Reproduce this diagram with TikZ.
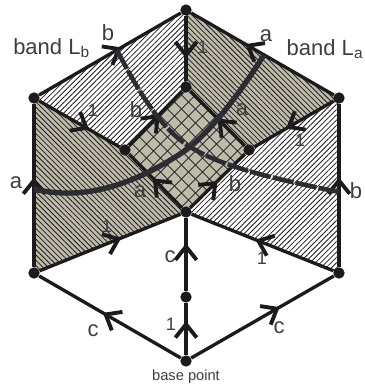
\documentclass[tikz,border=0pt]{standalone}
\usepackage{fontspec}
\setmainfont{Liberation Sans}
\usetikzlibrary{
	arrows.meta,
	backgrounds,
	decorations.markings,
	patterns.meta
}
\definecolor{BandBeige}{RGB}{190,187,170}
\definecolor{EdgeBlack}{RGB}{28,26,28}
\definecolor{CurveGrey}{RGB}{44,44,50}
\definecolor{LabelGrey}{RGB}{62,62,66}
\tikzset{
	vertex/.style={circle,fill=EdgeBlack,inner sep=0pt,minimum size=8.5pt},
	edge/.style={EdgeBlack,line width=2.5pt},
	barb/.style={
		postaction={decorate,decoration={markings,
			mark=at position #1 with {\arrow[EdgeBlack]{Straight Barb[length=10pt,width=16pt,line width=2.9pt]}}}}
	},
	lab/.style={LabelGrey,font=\fontsize{16.5}{16.5}\selectfont,inner sep=0pt},
	numlab/.style={LabelGrey,font=\fontsize{13.5}{13.5}\selectfont,inner sep=0pt},
	hatchne/.style={pattern={Lines[angle=45,distance=2.8pt,line width=0.6pt]},pattern color=EdgeBlack},
	hatchnw/.style={pattern={Lines[angle=-45,distance=2.8pt,line width=0.6pt]},pattern color=EdgeBlack},
	gridne/.style={pattern={Lines[angle=45,distance=7.4pt,line width=0.75pt]},pattern color=EdgeBlack},
	gridnw/.style={pattern={Lines[angle=-45,distance=7.4pt,line width=0.75pt]},pattern color=EdgeBlack}
}
\begin{document}
\begin{tikzpicture}[x=0.75pt,y=-0.75pt]
	\useasboundingbox (0,0) rectangle (364,388);

	% Vertices
	\node[vertex] (top) at (186,10) {};
	\node[vertex] (lefttop) at (34,98) {};
	\node[vertex] (righttop) at (339,98) {};
	\node[vertex] (leftlow) at (34,273) {};
	\node[vertex] (rightlow) at (339,273) {};
	\node[vertex] (base) at (186,361) {};
	\node[vertex] (mid) at (186,297) {};
	\node[vertex] (centertop) at (186,87) {};
	\node[vertex] (centerlow) at (186,212) {};
	\node[vertex] (innerleft) at (125,150) {};
	\node[vertex] (innerright) at (249,150) {};

	% Free ends of the curves
	\coordinate (aleft) at (34,189);
	\coordinate (acenter) at (186,150);
	\coordinate (aright) at (264,55);
	\coordinate (btop) at (117,50);
	\coordinate (bcenter) at (192,148);
	\coordinate (bright) at (339,192);

	% Bands
	\begin{scope}[on background layer]
		\fill[BandBeige] (lefttop.center) -- (innerleft.center) -- (centerlow.center) -- (leftlow.center) -- cycle;
		\fill[hatchnw] (lefttop.center) -- (innerleft.center) -- (centerlow.center) -- (leftlow.center) -- cycle;
		\fill[BandBeige] (top.center) -- (righttop.center) -- (innerright.center) -- (centertop.center) -- cycle;
		\fill[hatchnw] (top.center) -- (righttop.center) -- (innerright.center) -- (centertop.center) -- cycle;
		\fill[hatchne] (top.center) -- (lefttop.center) -- (innerleft.center) -- (centertop.center) -- cycle;
		\fill[hatchne] (righttop.center) -- (rightlow.center) -- (centerlow.center) -- (innerright.center) -- cycle;
		% Crossing
		\fill[BandBeige] (centertop.center) -- (innerright.center) -- (centerlow.center) -- (innerleft.center) -- cycle;
		\fill[gridne] (centertop.center) -- (innerright.center) -- (centerlow.center) -- (innerleft.center) -- cycle;
		\fill[gridnw] (centertop.center) -- (innerright.center) -- (centerlow.center) -- (innerleft.center) -- cycle;
	\end{scope}

	% Edges
	\draw[edge,barb=0.58] (lefttop) -- (top);
	\draw[edge,barb=0.62] (righttop) -- (top);
	\draw[edge,barb=0.62] (lefttop) -- (innerleft);
	\draw[edge,barb=0.6] (righttop) -- (innerright);
	\draw[edge,barb=0.65] (top) -- (centertop);
	\draw[edge,barb=0.55] (leftlow) -- (lefttop);
	\draw[edge,barb=0.55] (rightlow) -- (righttop);
	\draw[edge,barb=0.58] (innerleft) -- (centertop);
	\draw[edge,barb=0.5] (centerlow) -- (innerright);
	\draw[edge,barb=0.5] (innerright) -- (centertop);
	\draw[edge,barb=0.55] (centerlow) -- (innerleft);
	\draw[edge,barb=0.58] (leftlow) -- (centerlow);
	\draw[edge,barb=0.55] (rightlow) -- (centerlow);
	\draw[edge,barb=0.55] (base) -- (leftlow);
	\draw[edge,barb=0.62] (base) -- (rightlow);
	\draw[edge,barb=0.65] (mid) -- (centerlow);
	\draw[edge,barb=0.65] (base) -- (mid);

	% Curves
	\draw[CurveGrey,line width=4pt]
	(aleft) .. controls (70,198) and (120,195) .. (acenter)
	.. controls (215,128) and (245,85) .. (aright);
	\draw[CurveGrey,line width=3.4pt,dash pattern=on 16pt off 1.6pt]
	(btop) .. controls (135,85) and (160,130) .. (bcenter)
	.. controls (225,168) and (280,180) .. (bright);

	% Labels
	\node[lab,anchor=west] (bandb) at (13,48) {band L\textsubscript{b}};
	\node[lab,anchor=east] (banda) at (363.5,49) {band L\textsubscript{a}};
	\node[lab] (bupper) at (108,33) {b};
	\node[lab] (aupper) at (266,36) {a};
	\node[lab] (aouter) at (16,183) {a};
	\node[lab] (bouter) at (356,191) {b};
	\node[lab] (binner) at (136,110) {b};
	\node[lab] (ainner) at (242,110) {a};
	\node[lab] (bcross) at (235,184) {b};
	\node[lab] (across) at (140,192) {a};
	\node[lab] (cleft) at (93,331) {c};
	\node[lab] (cright) at (279,328) {c};
	\node[lab] (cmid) at (170,257) {c};
	\node[numlab] (onetop) at (203,47) {1};
	\node[numlab] (oneleft) at (93,110) {1};
	\node[numlab] (oneright) at (300,140) {1};
	\node[numlab] (onelow) at (107,226) {1};
	\node[numlab] (onelowr) at (262,258) {1};
	\node[numlab] (onemid) at (171,324) {1};
	\node[LabelGrey,font=\fontsize{11}{11}\selectfont,inner sep=0pt] (basepoint) at (186,377) {base point};
\end{tikzpicture}
\end{document}
